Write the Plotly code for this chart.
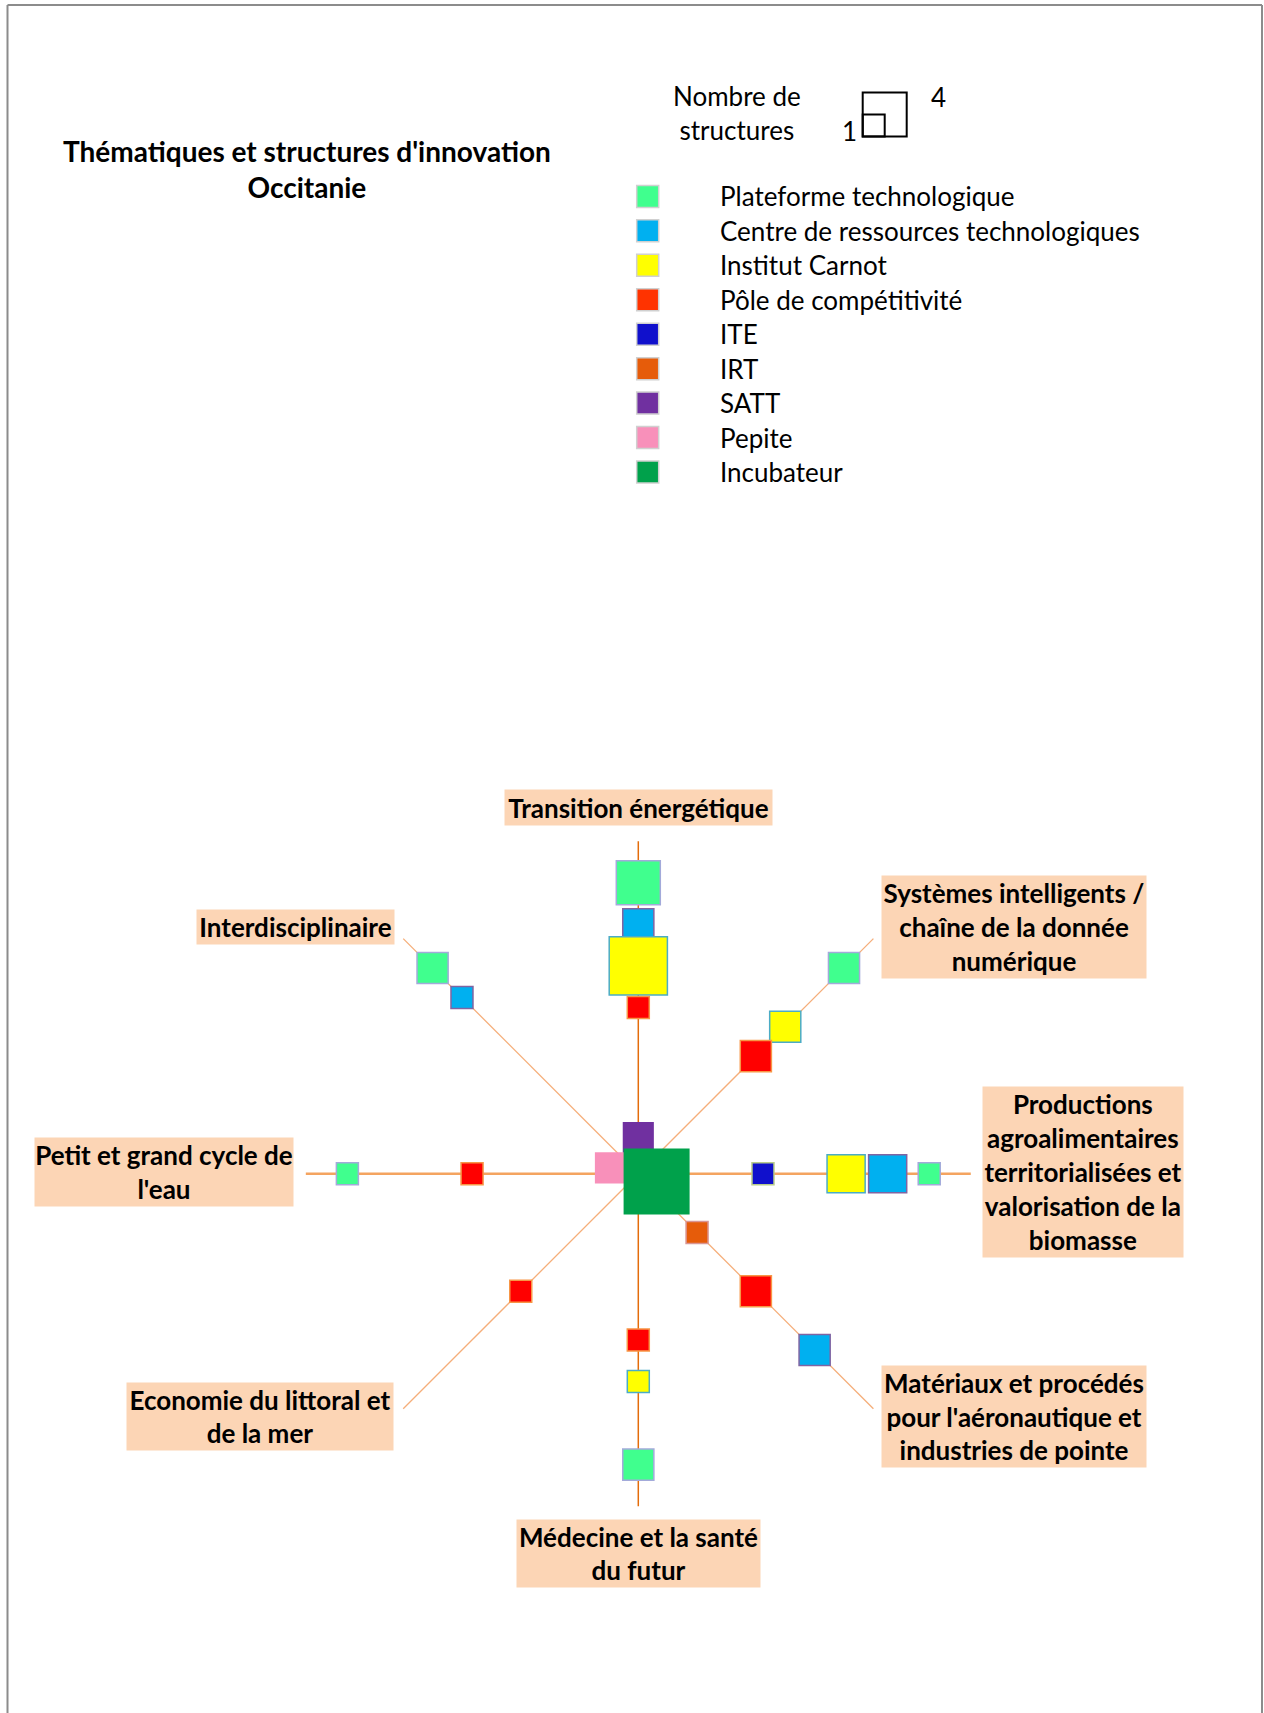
import numpy as np
import plotly.graph_objects as go

# Thématiques, dans le sens horaire en partant du haut
themes = [
    "Transition énergétique",
    "Systèmes intelligents /<br>chaîne de la donnée<br>numérique",
    "Productions<br>agroalimentaires<br>territorialisées et<br>valorisation de la<br>biomasse",
    "Matériaux et procédés<br>pour l'aéronautique et<br>industries de pointe",
    "Médecine et la santé<br>du futur",
    "Economie du littoral et<br>de la mer",
    "Petit et grand cycle de<br>l'eau",
    "Interdisciplinaire",
]
theme_angle = [0, 45, 90, 135, 180, 225, 270, 315]

# structures placées sur les rayons, avec leur cercle
spoke_types = ["Plateforme technologique", "Centre de ressources technologiques",
               "Institut Carnot", "Pôle de compétitivité", "ITE", "IRT"]
spoke_ring = [7, 6, 5, 4, 3, 2]

# nombre de structures : une ligne par thématique, une colonne par type
spoke_counts = [
    [4, 2, 7, 1, 0, 0],  # Transition énergétique
    [2, 0, 2, 2, 0, 0],  # Systèmes intelligents
    [1, 3, 3, 0, 1, 0],  # Productions agroalimentaires
    [0, 2, 0, 2, 0, 1],  # Matériaux et procédés
    [2, 0, 1, 1, 0, 0],  # Médecine
    [0, 0, 0, 1, 0, 0],  # Economie du littoral
    [1, 0, 0, 1, 0, 0],  # Petit et grand cycle de l'eau
    [2, 1, 0, 0, 0, 0],  # Interdisciplinaire
]

# structures transversales au centre (position en unités de cercle)
hub_types = ["SATT", "Pepite", "Incubateur"]
hub_counts = [2, 2, 9]
hub_x = [0.0, -0.67, 0.44]
hub_y = [0.87, 0.14, -0.19]

legend_types = spoke_types + hub_types
key_counts = [1, 4]

# --- styles ---
fill_col = ["#40FF8E", "#00B0F0", "#FFFF00", "#FF0000", "#1010CC", "#E65C0A",
            "#7030A0", "#F890BA", "#00A14B"]
legend_col = ["#40FF8E", "#00B0F0", "#FFFF00", "#FF3300", "#1010CC", "#E65C0A",
              "#7030A0", "#F890BA", "#00A14B"]
edge_col = ["#A3AADA", "#8064A2", "#4BACC6", "#F79646", "#B8CC8A", "#D99694"]

W, H = 1264, 1713
CX, CY = 638.3, 1173.7      # centre de l'étoile (px)
STEP = 41.56                # px par cercle
UNIT = 22                   # côté d'un carré pour 1 structure
PEACH = "#FCD5B5"
FONT = "Lato"

# boîtes des libellés (centre x, centre y, largeur, hauteur) en px
label_box = [
    (638, 807, 267, 35),
    (1014, 927, 264, 102),
    (1083, 1172, 200, 170),
    (1014, 1416, 264, 101),
    (638, 1553, 243, 67),
    (260, 1416, 266, 67),
    (164, 1172, 258, 68),
    (295, 927, 197, 34),
]

fig = go.Figure()

# rayons
for ang in theme_angle:
    a = np.radians(ang)
    if ang % 180 == 0:
        col, lw = "#E46C0A", 1.5
    elif ang % 90 == 0:
        col, lw = "#F4A460", 2.5
    else:
        col, lw = "#F5AE7A", 1.3
    fig.add_trace(go.Scatter(x=[0, 8*np.sin(a)], y=[0, 8*np.cos(a)], mode="lines",
                             line=dict(color=col, width=lw), hoverinfo="skip"))

# carrés sur les rayons
for j, t in enumerate(spoke_types):
    xs, ys, ss, txt = [], [], [], []
    for i, ang in enumerate(theme_angle):
        n = spoke_counts[i][j]
        if n:
            a = np.radians(ang)
            xs.append(spoke_ring[j]*np.sin(a))
            ys.append(spoke_ring[j]*np.cos(a))
            ss.append(UNIT*np.sqrt(n))
            txt.append(f"{themes[i].replace('<br>', ' ')} : {n}")
    fig.add_trace(go.Scatter(x=xs, y=ys, mode="markers", name=t, text=txt,
                             hovertemplate="%{text}<extra>" + t + "</extra>",
                             marker=dict(symbol="square", size=ss, color=fill_col[j], opacity=1,
                                         line=dict(color=edge_col[j], width=1.5))))

# carrés du centre
for k, t in enumerate(hub_types):
    fig.add_trace(go.Scatter(x=[hub_x[k]], y=[hub_y[k]], mode="markers", name=t,
                             hovertemplate=f"{t} : {hub_counts[k]}<extra></extra>",
                             marker=dict(symbol="square", size=UNIT*np.sqrt(hub_counts[k]),
                                         color=fill_col[6 + k], opacity=1, line=dict(width=0))))

# légende (axes en px)
leg_y = [196.4 + 34.45*i for i in range(len(legend_types))]
fig.add_trace(go.Scatter(x=[647.7]*len(legend_types), y=leg_y, xaxis="x2", yaxis="y2",
                         mode="markers", hoverinfo="skip",
                         marker=dict(symbol="square", size=UNIT, color=legend_col, opacity=1,
                                     line=dict(color="#D0D0D0", width=1.5))))

annotations = []
for t, yy in zip(legend_types, leg_y):
    annotations.append(dict(x=718, y=yy, xref="x2", yref="y2", text=t, showarrow=False,
                            xanchor="left", yanchor="middle",
                            font=dict(family=FONT, size=26, color="#000000")))

for txt, (bx, by, bw, bh) in zip(themes, label_box):
    annotations.append(dict(x=bx, y=by, xref="x2", yref="y2", text="<b>" + txt + "</b>",
                            showarrow=False, xanchor="center", yanchor="middle",
                            width=bw, height=bh, borderpad=0, bgcolor=PEACH, align="center",
                            font=dict(family=FONT, size=26, color="#000000")))

annotations += [
    dict(x=307, y=169, xref="x2", yref="y2", showarrow=False,
         text="<b>Thématiques et structures d'innovation<br>Occitanie</b>",
         font=dict(family=FONT, size=28, color="#000000")),
    dict(x=737, y=113, xref="x2", yref="y2", showarrow=False, text="Nombre de<br>structures",
         font=dict(family=FONT, size=26, color="#000000")),
    dict(x=859, y=131, xref="x2", yref="y2", showarrow=False, text="1", xanchor="right",
         font=dict(family=FONT, size=26, color="#000000")),
    dict(x=929, y=97, xref="x2", yref="y2", showarrow=False, text="4", xanchor="left",
         font=dict(family=FONT, size=26, color="#000000")),
]

# clé des tailles : carrés alignés en bas à gauche
shapes = []
for n in key_counts:
    s = UNIT*np.sqrt(n)
    shapes.append(dict(type="rect", xref="x2", yref="y2", x0=862.7, x1=862.7 + s,
                       y0=136.5 - s, y1=136.5, line=dict(color="#000000", width=2)))

# cadre
for x0, y0, x1, y1 in [(7.5, 5, 1262, 5), (7.5, 5, 7.5, H), (1262, 5, 1262, H)]:
    shapes.append(dict(type="line", xref="x2", yref="y2", x0=x0, y0=y0, x1=x1, y1=y1,
                       line=dict(color="#8C8C8C", width=2)))

fig.update_layout(
    width=W, height=H, margin=dict(l=0, r=0, t=0, b=0),
    paper_bgcolor="white", plot_bgcolor="white", showlegend=False,
    xaxis=dict(range=[-CX/STEP, (W - CX)/STEP], visible=False, fixedrange=True),
    yaxis=dict(range=[-(H - CY)/STEP, CY/STEP], visible=False, fixedrange=True),
    xaxis2=dict(range=[0, W], overlaying="x", visible=False, fixedrange=True),
    yaxis2=dict(range=[H, 0], overlaying="y", visible=False, fixedrange=True),
    annotations=annotations, shapes=shapes,
)

fig.write_html("out.html", config={"displayModeBar": False},
               post_script="document.body.style.margin='0';")
